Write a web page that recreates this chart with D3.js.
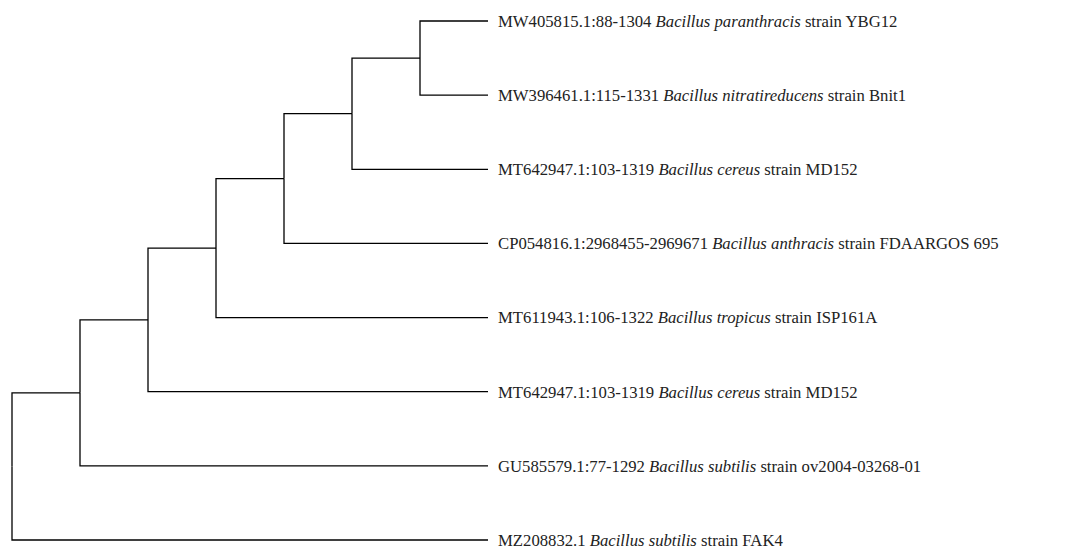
<!DOCTYPE html>
<html>
<head>
<meta charset="utf-8">
<script src="https://cdn.jsdelivr.net/npm/d3@7"></script>
<style>
  html, body { margin: 0; padding: 0; background: #fff; }
  .link { fill: none; stroke: #000; stroke-width: 1.3; }
  .leaf-label { font-family: "Liberation Serif", "Times New Roman", serif; font-size: 16.7px; fill: #222; }
</style>
</head>
<body>
<div id="chart"></div>
<script>
// Leaf labels, top to bottom
const accessions = [
    'MW405815.1:88-1304',
    'MW396461.1:115-1331',
    'MT642947.1:103-1319',
    'CP054816.1:2968455-2969671',
    'MT611943.1:106-1322',
    'MT642947.1:103-1319',
    'GU585579.1:77-1292',
    'MZ208832.1'
];
const species = [
    'Bacillus paranthracis',
    'Bacillus nitratireducens',
    'Bacillus cereus',
    'Bacillus anthracis',
    'Bacillus tropicus',
    'Bacillus cereus',
    'Bacillus subtilis',
    'Bacillus subtilis'
];
const strains = [
    'strain YBG12',
    'strain Bnit1',
    'strain MD152',
    'strain FDAARGOS 695',
    'strain ISP161A',
    'strain MD152',
    'strain ov2004-03268-01',
    'strain FAK4'
];

// Internal nodes: each joins two members. Numbers are leaf indices,
// strings "nK" refer to the K-th internal node built before.
const joins = [
    [0, 1],
    ['n0', 2],
    ['n1', 3],
    ['n2', 4],
    ['n3', 5],
    ['n4', 6],
    ['n5', 7]
];

const width = 1068;
const height = 548;

// Build the nested tree from the joins
const built = [];
function member(ref) {
    if (typeof ref === 'number') {
        return { name: ref, leaf: true };
    }
    return built[+ref.slice(1)];
}
joins.forEach(pair => {
    built.push({ children: pair.map(member) });
});
const rootData = built[built.length - 1];

const root = d3.hierarchy(rootData);
d3.cluster()
    .size([1, 1])
    .separation(() => 1)(root);

// Map layout coordinates to the page
const leafExtent = d3.extent(root.leaves(), d => d.x);
const yScale = d3.scaleLinear().domain(leafExtent).range([21, 540]);
const xScale = d3.scaleLinear().domain([0, 1]).range([12, 488]);

const svg = d3.select('#chart')
    .append('svg')
    .attr('width', width)
    .attr('height', height);

// Elbow links
svg.append('g')
    .selectAll('path')
    .data(root.links())
    .enter()
    .append('path')
    .attr('class', 'link')
    .attr('d', d => `M${xScale(d.source.y)},${yScale(d.source.x)}V${yScale(d.target.x)}H${xScale(d.target.y)}`);

// Leaf labels
const label = svg.append('g')
    .selectAll('text')
    .data(root.leaves())
    .enter()
    .append('text')
    .attr('class', 'leaf-label')
    .attr('x', d => xScale(d.y) + 10)
    .attr('y', d => yScale(d.x))
    .attr('dy', '0.35em');

label.append('tspan').text(d => accessions[d.data.name] + ' ');
label.append('tspan').style('font-style', 'italic').text(d => species[d.data.name]);
label.append('tspan').text(d => ' ' + strains[d.data.name]);
</script>
</body>
</html>
